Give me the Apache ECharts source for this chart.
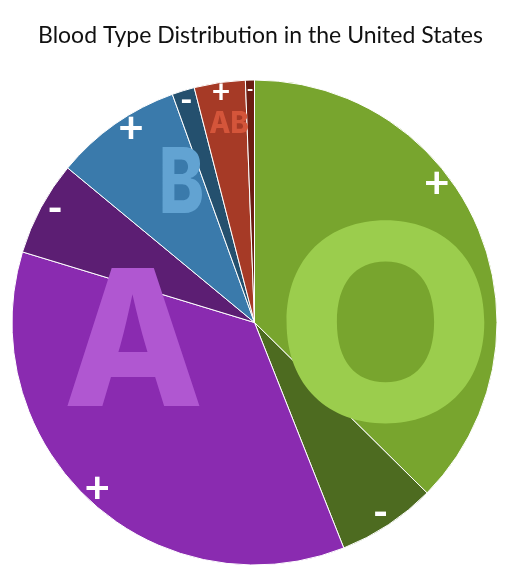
<!DOCTYPE html>
<html>
<head>
<meta charset="utf-8">
<script src="https://cdn.jsdelivr.net/npm/echarts@6/dist/echarts.min.js"></script>
<style>
  html, body { margin: 0; padding: 0; background: #fff; }
  #chart { width: 509px; height: 578px; }
</style>
</head>
<body>
<div id="chart"></div>
<script>
  const types = ["O+", "O-", "A+", "A-", "B+", "B-", "AB+", "AB-"];
  const shares = [37.4, 6.6, 35.7, 6.3, 8.5, 1.5, 3.4, 0.6];
  const signs = ["+", "-", "+", "-", "+", "-", "+", "-"];
  const signSizes = [44, 42, 44, 42, 44, 34, 32, 18];
  const sliceColors = ["#78a52e", "#4d6b20", "#8a2bb0", "#5c1e73", "#3a7aab", "#24506e", "#a63a26", "#6b1d12"];
  const groups = ["O", "A", "B", "AB"];
  const groupColors = ["#9bcd4d", "#b057d1", "#62a3d2", "#d4553a"];
  const groupSizes = [272, 190, 91, 30];

  const chart = echarts.init(document.getElementById("chart"));

  const R = 242.5;
  const center = ["50%", 322.5];

  // big group letters, placed by eye over the slices
  const letterPos = [[385.5, 339], [133.5, 349], [181.5, 186], [229, 124]];
  const letterScaleX = [1.05, 0.96, 0.75, 0.92];
  // nudges for the +/- labels
  const signOffsets = [[-32, -49], [-2, -3], [0, -4], [5, -3], [10, -4], [0, 0], [0, 0], [0, 0]];

  chart.setOption({
    animation: false,
    title: {
      text: "Blood Type Distribution in the United States",
      left: 33,
      top: 19,
      textStyle: {
        fontFamily: "Lato",
        fontWeight: "normal",
        fontSize: 23,
        color: "#111",
      },
    },
    graphic: groups.map((g, i) => ({
      type: "text",
      z: 10,
      silent: true,
      x: letterPos[i][0],
      y: letterPos[i][1],
      scaleX: letterScaleX[i],
      style: {
        text: g,
        fill: groupColors[i],
        font: `800 ${groupSizes[i]}px Inter`,
        textAlign: "center",
        textVerticalAlign: "middle",
      },
    })),
    series: [
      {
        type: "pie",
        center,
        radius: [0, R],
        startAngle: 90,
        silent: true,
        label: { show: false },
        labelLine: { show: false },
        itemStyle: { borderColor: "#fff", borderWidth: 1 },
        data: types.map((t, i) => ({
          name: t,
          value: shares[i],
          itemStyle: { color: sliceColors[i] },
        })),
      },
      {
        // transparent ring that only carries the +/- labels
        type: "pie",
        center,
        radius: [R * 0.89, R],
        startAngle: 90,
        silent: true,
        z: 20,
        itemStyle: { color: "rgba(0,0,0,0)" },
        labelLine: { show: false },
        label: {
          show: true,
          position: "inside",
          color: "#fff",
          fontFamily: "Lato",
          fontWeight: "bold",
          formatter: (p) => signs[p.dataIndex],
        },
        data: types.map((t, i) => ({
          name: t,
          value: shares[i],
          label: { fontSize: signSizes[i], offset: signOffsets[i] },
        })),
      },
    ],
  });
</script>
</body>
</html>
